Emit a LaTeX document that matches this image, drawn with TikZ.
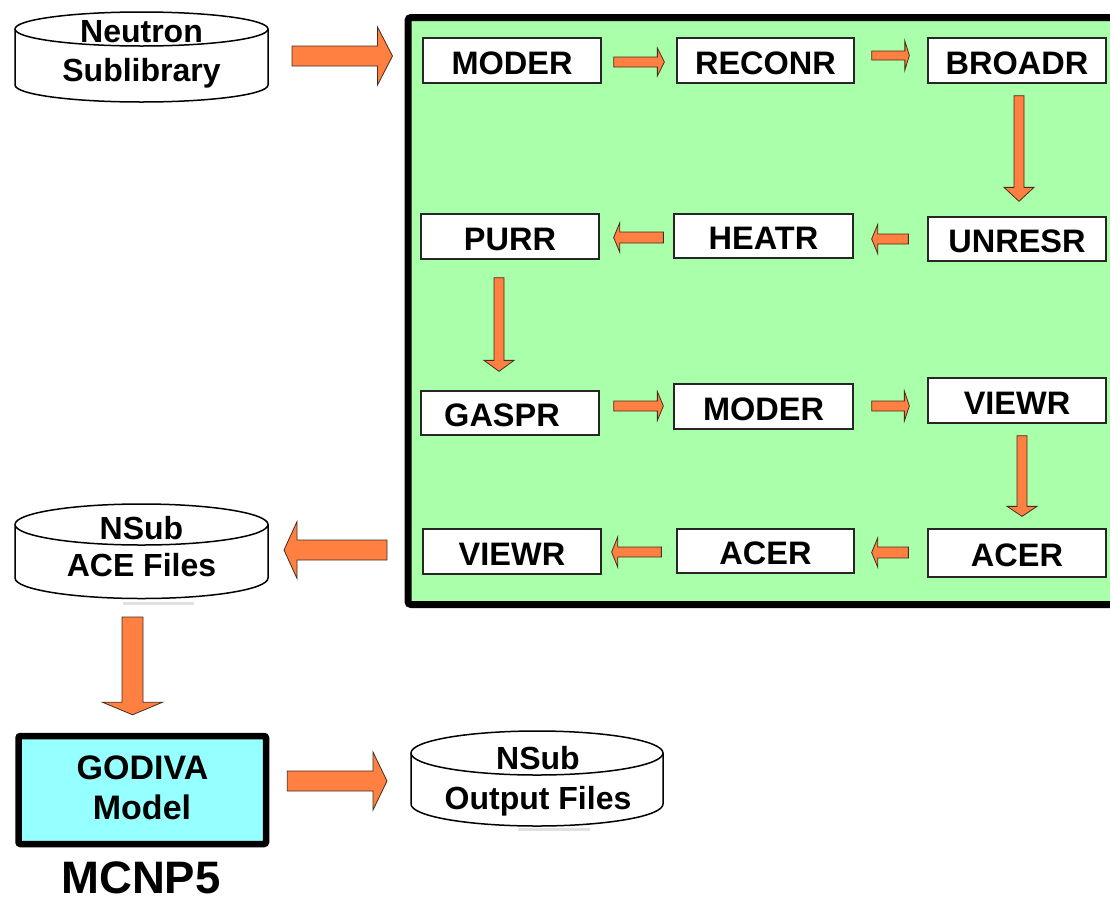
\documentclass[tikz,border=0pt]{standalone}
\usepackage{fontspec}
\setmainfont{Liberation Sans}
\usetikzlibrary{calc}
\definecolor{flowgreen}{RGB}{170,255,170}
\definecolor{godivacyan}{RGB}{150,255,255}
\definecolor{arrowfill}{RGB}{255,128,64}
\definecolor{arrowline}{RGB}{70,45,30}
% block arrow: #1 start, #2 tip, #3 shaft half width, #4 head half width, #5 head length
\newcommand\blockarrow[5]{%
  \coordinate (bah) at ($(#2)!#5!(#1)$);
  \filldraw[blockarr] ($(#1)!#3!90:(#2)$) -- ($(bah)!#3!90:(#2)$) -- ($(bah)!#4!90:(#2)$)
    -- (#2) -- ($(bah)!#4!-90:(#2)$) -- ($(bah)!#3!-90:(#2)$) -- ($(#1)!#3!-90:(#2)$) -- cycle;
}
% cylinder: #1 cx, #2 rx, #3 y of top ellipse, #4 y of bottom ellipse, #5 ry
\newcommand\cylinderdrum[5]{%
  \filldraw[cylline] (#1-#2,#3) -- (#1-#2,#4)
    arc[start angle=180,end angle=360,x radius=#2pt,y radius=#5pt] -- (#1+#2,#3)
    arc[start angle=0,end angle=180,x radius=#2pt,y radius=#5pt] -- cycle;
  \draw[cylline] (#1-#2,#3) arc[start angle=180,end angle=360,x radius=#2pt,y radius=#5pt];
}
\begin{document}
\begin{tikzpicture}[x=1pt,y=-1pt,
  blockarr/.style={fill=arrowfill,draw=arrowline,line width=0.8pt,line join=miter},
  cylline/.style={draw=black,fill=white,line width=1.5pt},
  prog/.style={draw=black!85,line width=1.3pt,fill=white,minimum width=178pt,minimum height=45pt,
    inner sep=0pt,text height=27pt,text depth=0pt,font=\fontsize{32.5}{38}\selectfont\bfseries},
  cyltext/.style={align=center,inner sep=0pt},
  bigtext/.style={anchor=base,inner sep=0pt,font=\fontsize{34}{40}\selectfont\bfseries}]
\clip (0,0) rectangle (1110,900);
\fill[white] (0,0) rectangle (1110,900);

% container
\node[draw=black,line width=7pt,fill=flowgreen,rounded corners=3pt,minimum width=722pt,
  minimum height=587pt,inner sep=0pt] (flow) at (769,311) {};

% program boxes
\node[prog] (moder1) at (512,60.5) {MODER};
\node[prog,minimum width=177pt] (reconr) at (765.5,60.5) {RECONR};
\node[prog] (broadr) at (1017,60.5) {BROADR};
\node[prog] (purr) at (510,236.5) {PURR};
\node[prog,minimum width=179pt,minimum height=44pt] (heatr) at (763.5,236) {HEATR};
\node[prog,minimum height=44pt] (unresr) at (1017,239) {UNRESR};
\node[prog,minimum height=44pt] (gaspr) at (510,413) {GASPR\kern16pt};
\node[prog,minimum width=179pt] (moder2) at (763.5,406.5) {MODER};
\node[prog] (viewr1) at (1017,400.5) {VIEWR};
\node[prog] (viewr2) at (512,551.5) {VIEWR};
\node[prog,minimum width=177pt,minimum height=44pt] (acer1) at (765.5,551) {ACER};
\node[prog,minimum height=48pt] (acer2) at (1017,553) {ACER};

% small arrows inside the container
\coordinate (s1) at ([shift={(12,1.5)}]moder1.east);
\coordinate (t1) at ([shift={(-12,1.5)}]reconr.west);
\blockarrow{s1}{t1}{5pt}{14pt}{7pt}
\coordinate (s2) at ([shift={(17,-5)}]reconr.east);
\coordinate (t2) at ([shift={(-18,-5)}]broadr.west);
\blockarrow{s2}{t2}{4.5pt}{14.5pt}{4.5pt}
\coordinate (s3) at ([shift={(2,12)}]broadr.south);
\coordinate (t3) at ([shift={(2,-15)}]unresr.north);
\blockarrow{s3}{t3}{5pt}{15pt}{14pt}
\coordinate (s4) at ([shift={(-19,0)}]unresr.west);
\coordinate (t4) at ([shift={(18,3)}]heatr.east);
\blockarrow{s4}{t4}{5pt}{14.5pt}{6pt}
\coordinate (s5) at ([shift={(-10,1.5)}]heatr.west);
\coordinate (t5) at ([shift={(14,1)}]purr.east);
\blockarrow{s5}{t5}{5.5pt}{14.5pt}{6pt}
\coordinate (s6) at ([shift={(-11,18)}]purr.south);
\coordinate (t6) at ([shift={(-11,-19)}]gaspr.north);
\blockarrow{s6}{t6}{5pt}{15pt}{11pt}
\coordinate (s7) at ([shift={(14,-7)}]gaspr.east);
\coordinate (t7) at ([shift={(-10,-0.5)}]moder2.west);
\blockarrow{s7}{t7}{5pt}{14.5pt}{6pt}
\coordinate (s8) at ([shift={(18,-0.5)}]moder2.east);
\coordinate (t8) at ([shift={(-18,5.5)}]viewr1.west);
\blockarrow{s8}{t8}{5pt}{15pt}{5pt}
\coordinate (s9) at ([shift={(5,12)}]viewr1.south);
\coordinate (t9) at ([shift={(5,-12)}]acer2.north);
\blockarrow{s9}{t9}{5pt}{15pt}{10pt}
\coordinate (s10) at ([shift={(-19,-0.5)}]acer2.west);
\coordinate (t10) at ([shift={(17,1.5)}]acer1.east);
\blockarrow{s10}{t10}{5.5pt}{14.5pt}{6pt}
\coordinate (s11) at ([shift={(-15,1)}]acer1.west);
\coordinate (t11) at ([shift={(10,0.5)}]viewr2.east);
\blockarrow{s11}{t11}{5pt}{15pt}{6pt}

% cylinders
\cylinderdrum{141.5}{126.5}{29}{85}{17}
\node[cyltext,font=\fontsize{32}{39}\selectfont\bfseries] (neutron) at (141.5,54.4) {Neutron\\Sublibrary};
\cylinderdrum{141.5}{126.5}{524.5}{578}{20.5}
\node[cyltext,font=\fontsize{32}{37}\selectfont\bfseries] (acefiles) at (141.5,547) {NSub\\ACE Files};
\cylinderdrum{537}{126}{753}{804}{22}
\node[cyltext,font=\fontsize{32}{40}\selectfont\bfseries] (outfiles) at (538,780.9) {NSub\\Output Files};
\fill[black!12] (123,602) rectangle (194,604.5);
\fill[black!12] (518,828) rectangle (590,831);

% GODIVA model
\node[draw=black,line width=6.5pt,fill=godivacyan,rounded corners=2pt,minimum width=247.5pt,
  minimum height=108pt,inner sep=0pt] (godiva) at (142.25,790) {};
\node[bigtext] (godivaname) at (142.5,779) {GODIVA};
\node[bigtext] (godivamodel) at (142,819) {Model};
\node[anchor=base,inner sep=0pt,font=\fontsize{45.5}{50}\selectfont\bfseries] (mcnp) at (141,893.5) {MCNP5};

% big arrows
\coordinate (sA) at (292,56);
\coordinate (tA) at ([shift={(-12,0)}]flow.west |- sA);
\blockarrow{sA}{tA}{10pt}{29pt}{15pt}
\coordinate (sB) at (387,550);
\coordinate (tB) at (284,550);
\blockarrow{sB}{tB}{10pt}{28.5pt}{13pt}
\coordinate (sC) at (132.5,617);
\coordinate (tC) at ([shift={(-9.75,-18)}]godiva.north);
\blockarrow{sC}{tC}{10.5pt}{30pt}{12.5pt}
\coordinate (sD) at ([shift={(18,-9)}]godiva.east);
\coordinate (tD) at (387,781);
\blockarrow{sD}{tD}{10pt}{29pt}{14pt}
\end{tikzpicture}
\end{document}
